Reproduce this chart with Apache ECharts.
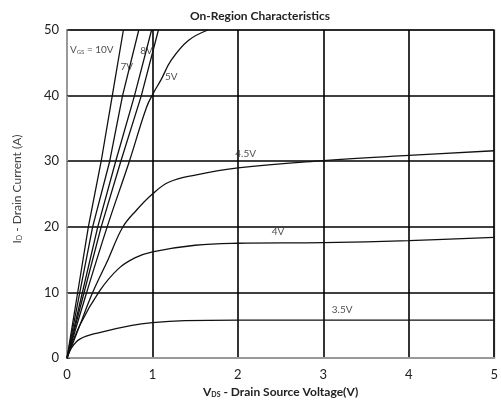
<!DOCTYPE html>
<html><head><meta charset="utf-8">
<script src="https://cdn.jsdelivr.net/npm/echarts@6/dist/echarts.min.js"></script>
<style>html,body{margin:0;padding:0;background:#fff}#c{width:501px;height:403px}</style>
</head><body><div id="c"></div>
<script>
// ---- data ----
var xTicks = [0, 1, 2, 3, 4, 5];
var yTicks = [0, 10, 20, 30, 40, 50];
var seriesNames = ['10V', '8V', '7V', '6V', '5V', '4.5V', '4V', '3.5V'];
var vds10 = [0, 0.125, 0.25, 0.40, 0.53, 0.66];
var id10  = [0, 10, 20, 30, 40, 50];
var vds8  = [0, 0.15, 0.30, 0.50, 0.65, 0.84];
var id8   = [0, 10, 20, 30, 40, 50];
var vds7  = [0, 0.18, 0.36, 0.57, 0.79, 0.99];
var id7   = [0, 10, 20, 30, 40, 50];
var vds6  = [0, 0.20, 0.40, 0.63, 0.87, 1.07];
var id6   = [0, 10, 20, 30, 40, 50];
var vds5  = [0, 0.23, 0.47, 0.73, 0.93, 1.02, 1.10, 1.22, 1.42, 1.65];
var id5   = [0, 10, 20, 30, 38.2, 40.6, 42.4, 45.4, 48.4, 50];
var vds45 = [0, 0.15, 0.30, 0.48, 0.65, 0.81, 1.0, 1.19, 1.5, 2.0, 3.0, 4.0, 5.0];
var id45  = [0, 5, 10, 15, 19.9, 22.5, 25.0, 26.8, 27.9, 29.0, 30.1, 30.9, 31.6];
var vds4  = [0, 0.15, 0.38, 0.6, 0.8, 1.0, 1.5, 2.0, 3.0, 4.0, 5.0];
var id4   = [0, 5.0, 10.2, 13.6, 15.3, 16.2, 17.2, 17.5, 17.6, 17.9, 18.4];
var vds35 = [0, 0.05, 0.15, 0.38, 0.76, 1.0, 1.38, 2.0, 3.0, 4.0, 5.0];
var id35  = [0, 1.5, 2.9, 3.9, 5.0, 5.4, 5.7, 5.8, 5.8, 5.8, 5.8];
var labelText = ['V{sub|GS} = 10V', '7V', '8V', '5V', '4.5V', '4V', '3.5V'];
var labelVds  = [0.29, 0.70, 0.93, 1.22, 2.09, 2.47, 3.22];
var labelId   = [47.0, 44.4, 46.9, 42.9, 31.2, 19.2, 7.4];

var title = 'On-Region Characteristics';
var xName = 'V{sub|DS} - Drain Source Voltage(V)';
var yName = 'I{sub|D} - Drain Current (A)';

function pairs(xs, ys) { return xs.map(function (x, i) { return [x, ys[i]]; }); }
var curves = [[vds10, id10], [vds8, id8], [vds7, id7], [vds6, id6], [vds5, id5], [vds45, id45], [vds4, id4], [vds35, id35]];

var FONT = 'Lato';
var series = curves.map(function (c, i) {
  return {
    name: seriesNames[i], type: 'line', data: pairs(c[0], c[1]),
    smooth: i >= 4 ? 0.4 : false, showSymbol: false, silent: true, z: 5,
    lineStyle: { color: '#111', width: 1.3 }
  };
});
series.push({
  type: 'scatter', symbolSize: 0, silent: true, z: 10,
  data: labelText.map(function (t, i) { return { value: [labelVds[i], labelId[i]], label: { formatter: t } }; }),
  label: {
    show: true, position: 'inside', color: '#222', fontFamily: FONT, fontSize: 10,
    rich: { sub: { fontSize: 6, verticalAlign: 'bottom', fontFamily: FONT, color: '#222', padding: [4, 0, 0, 0] } }
  }
});

var chart = echarts.init(document.getElementById('c'), null, { renderer: 'canvas' });
chart.setOption({
  animation: false,
  backgroundColor: '#fff',
  title: {
    text: title, left: 255, top: 5, textAlign: 'center',
    textStyle: { fontFamily: FONT, fontSize: 12, fontWeight: 'bold', color: '#222' }
  },
  grid: { left: 67, right: 1, top: 30, bottom: 42, show: true, borderColor: '#aaa', borderWidth: 2 },
  xAxis: {
    type: 'value', min: 0, max: 5, interval: 1,
    name: xName, nameLocation: 'middle', nameGap: 27,
    nameTextStyle: {
      fontFamily: FONT, fontSize: 12, color: '#222', fontWeight: 'bold',
      rich: { sub: { fontSize: 7, fontFamily: FONT, color: '#222', verticalAlign: 'bottom', padding: [5, 0, 0, 0] } }
    },
    axisLine: { show: true, lineStyle: { color: '#999', width: 2 } },
    axisTick: { show: false },
    axisLabel: { fontFamily: FONT, fontSize: 13, color: '#222', margin: 10 },
    splitLine: { show: true, lineStyle: { color: '#000', width: 1.6 } }
  },
  yAxis: {
    type: 'value', min: 0, max: 50, interval: 10,
    name: yName, nameLocation: 'middle', nameGap: 44, nameRotate: 90,
    nameTextStyle: {
      fontFamily: FONT, fontSize: 12, color: '#444', padding: [0, 0, 0, 10],
      rich: { sub: { fontSize: 7, fontFamily: FONT, color: '#444', verticalAlign: 'bottom', padding: [5, 0, 0, 0] } }
    },
    axisLine: { show: true, lineStyle: { color: '#999', width: 2 } },
    axisTick: { show: true, length: 3, inside: true, lineStyle: { color: '#444' } },
    axisLabel: { fontFamily: FONT, fontSize: 13, color: '#222', margin: 8 },
    splitLine: { show: true, lineStyle: { color: '#000', width: 1.6 } }
  },
  series: series
});
</script>
</body></html>
